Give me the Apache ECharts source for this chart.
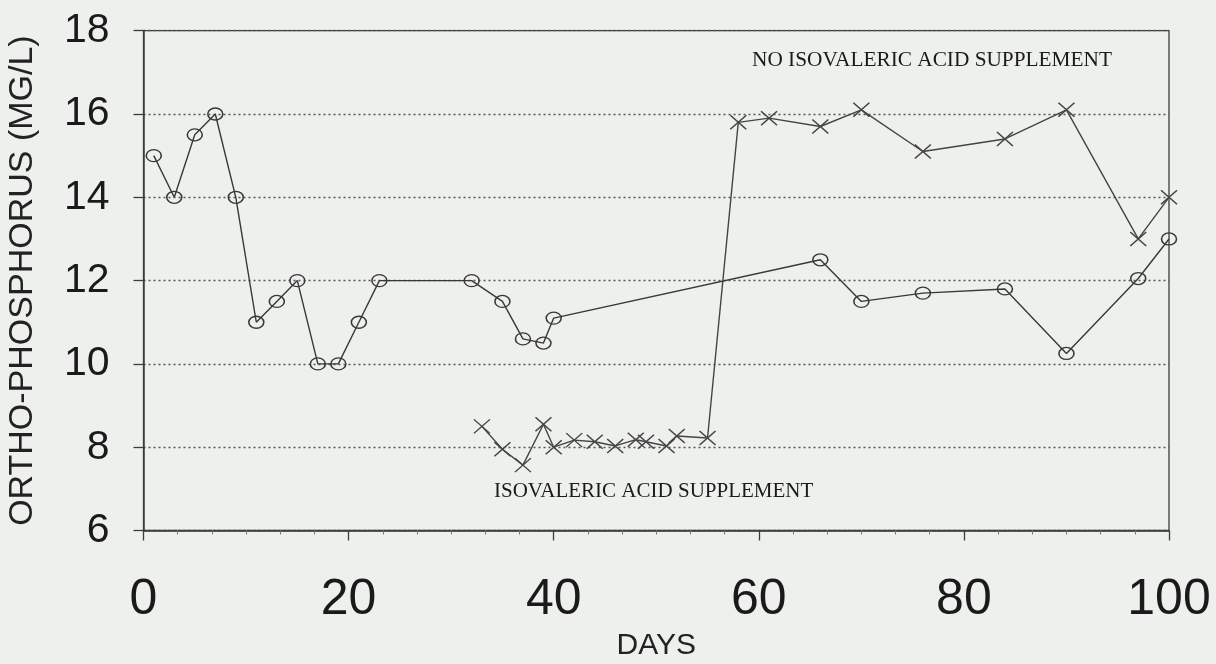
<!DOCTYPE html>
<html>
<head>
<meta charset="utf-8">
<script src="https://cdn.jsdelivr.net/npm/echarts@6/dist/echarts.min.js"></script>
<style>
html,body{margin:0;padding:0;background:#edf0ec;}
#chart{width:1216px;height:664px;}
</style>
</head>
<body>
<div id="chart"></div>
<script>
// Circles series (no isovaleric acid supplement)
const daysCircle = [1,3,5,7,9,11,13,15,17,19,21,23,32,35,37,39,40,66,70,76,84,90,97,100];
const valsCircle = [15,14,15.5,16,14,11,11.5,12,10,10,11,12,12,11.5,10.6,10.5,11.1,12.5,11.5,11.7,11.8,10.25,12.05,13.0];
// Crosses series
const daysCross = [33,35,37,39,40,42,44,46,48,49,51,52,55,58,61,66,70,76,84,90,97,100];
const valsCross = [8.5,7.95,7.57,8.55,8.0,8.17,8.13,8.03,8.18,8.13,8.03,8.27,8.22,15.8,15.9,15.7,16.1,15.1,15.4,16.1,13.0,14.0];
const xTicks = [0,20,40,60,80,100];
const yTicks = [6,8,10,12,14,16,18];
const labelTop = 'NO ISOVALERIC ACID SUPPLEMENT';
const labelBottom = 'ISOVALERIC ACID SUPPLEMENT';
const xName = 'DAYS';
const yName = 'ORTHO-PHOSPHORUS (MG/L)';

const circleData = daysCircle.map((d,i)=>[d,valsCircle[i]]);
const crossData = daysCross.map((d,i)=>[d,valsCross[i]]);

const chart = echarts.init(document.getElementById('chart'), null, {renderer:'canvas'});
const ink = '#3c3c3c';
chart.setOption({
  backgroundColor:'#edf0ec',
  animation:false,
  grid:{left:143.5, right:47, top:30.7, bottom:133.5, containLabel:false, outerBoundsMode:'none',
        show:true, borderColor:ink, borderWidth:1.3, backgroundColor:'transparent'},
  xAxis:{
    type:'value', min:xTicks[0], max:xTicks[xTicks.length-1], interval:20,
    name:xName, nameLocation:'middle', nameGap:98,
    nameTextStyle:{fontFamily:'Liberation Sans', fontSize:30, color:'#222'},
    axisLine:{show:true, onZero:false, lineStyle:{color:ink, width:1.5}},
    axisTick:{show:true, length:10, lineStyle:{color:ink, width:1.3}},
    minorTick:{show:true, splitNumber:6, length:4, lineStyle:{color:'#777', width:1}},
    axisLabel:{fontFamily:'Liberation Sans', fontSize:50, color:'#1a1a1a', margin:45},
    splitLine:{show:false}
  },
  yAxis:{
    type:'value', min:yTicks[0], max:yTicks[yTicks.length-1], interval:2,
    name:yName, nameLocation:'middle', nameGap:104, nameRotate:90,
    nameTextStyle:{fontFamily:'Liberation Sans', fontSize:34, color:'#222'},
    axisLine:{show:true, lineStyle:{color:ink, width:1.5}},
    axisTick:{show:true, length:10, lineStyle:{color:ink, width:1.3}},
    axisLabel:{fontFamily:'Liberation Sans', fontSize:41, color:'#1a1a1a', margin:34},
    splitLine:{show:true, lineStyle:{color:'#555', width:1.3, type:[2,3]}}
  },
  series:[
    {
      type:'line', data:circleData, symbol:'circle', symbolSize:[15,12],
      lineStyle:{color:'#383838', width:1.4},
      itemStyle:{color:'transparent', borderColor:'#383838', borderWidth:1.4},
      z:3
    },
    {
      type:'line', data:crossData, symbol:'path://M0,0L10,10M10,0L0,10', symbolSize:[16,14],
      lineStyle:{color:'#444', width:1.4},
      itemStyle:{color:'transparent', borderColor:'#444', borderWidth:1.4},
      z:3
    }
  ],
  graphic:[
    {type:'text', left:752, top:50, style:{text:labelTop, font:'21.3px "Liberation Serif"', fill:'#1a1a1a'}},
    {type:'text', left:494, top:481, style:{text:labelBottom, font:'21px "Liberation Serif"', fill:'#1a1a1a'}}
  ]
});
</script>
</body>
</html>
